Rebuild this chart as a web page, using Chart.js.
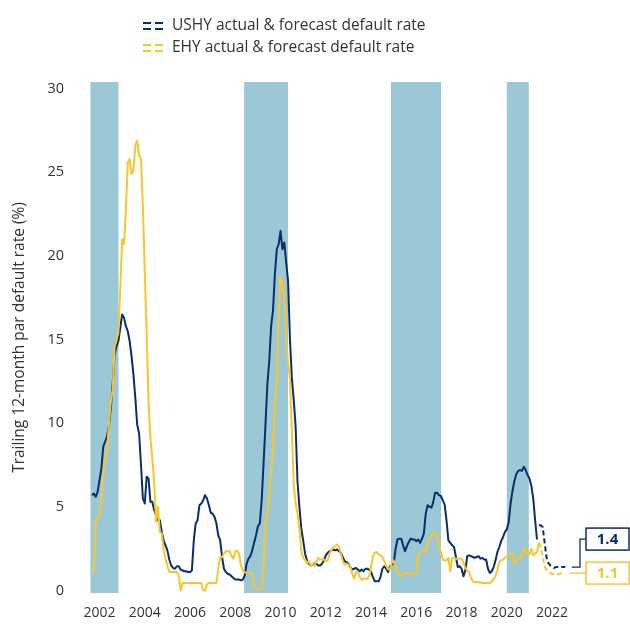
<!DOCTYPE html>
<html>
<head>
<meta charset="utf-8">
<script src="https://cdn.jsdelivr.net/npm/chart.js@4.4.1/dist/chart.umd.min.js"></script>
<style>
  html, body { margin: 0; padding: 0; background: #ffffff; }
  #wrap { width: 630px; height: 626px; }
</style>
</head>
<body>
<div id="wrap"><canvas id="chart" width="630" height="626"></canvas></div>
<script>
// Trailing 12-month par default rates, monthly, starting September 2001
const seriesStart = { year: 2001, month: 9 };
const ushyActual = [
  5.7, 5.8, 5.6, 5.9,
  6.6, 7.3, 8.6, 8.9, 9.2, 9.9, 10.9, 12.4, 14.1, 14.6, 14.9, 15.7,
  16.5, 16.3, 15.8, 15.5, 14.9, 14.0, 12.9, 11.5, 9.9, 9.4, 7.5, 5.5,
  5.2, 6.8, 6.7, 5.3, 5.3, 4.8, 4.5, 4.2, 4.2, 3.5, 3.0, 2.7,
  2.4, 1.85, 1.5, 1.35, 1.3, 1.45, 1.45, 1.25, 1.2, 1.15, 1.15, 1.1,
  1.1, 1.2, 3.0, 4.0, 4.2, 5.1, 5.2, 5.4, 5.7, 5.5, 5.1, 4.65,
  4.6, 4.4, 4.0, 3.3, 3.0, 2.0, 1.3, 1.1, 1.0, 0.95, 0.85, 0.75,
  0.65, 0.65, 0.65, 0.6, 0.65, 0.9, 1.6, 1.9, 2.05, 2.4, 2.85, 3.3,
  3.85, 4.0, 5.4, 7.6, 9.9, 12.3, 13.7, 15.8, 16.75, 18.9, 20.4, 20.7,
  21.5, 20.4, 20.8, 19.6, 18.5, 15.0, 12.7, 11.4, 9.8, 6.5, 5.0, 3.7,
  3.0, 2.2, 1.8, 1.6, 1.5, 1.55, 1.6, 1.6, 1.5, 1.5, 1.6, 1.8,
  2.1, 2.25, 2.35, 2.4, 2.45, 2.4, 2.45, 2.35, 2.25, 2.0, 1.75, 1.7,
  1.6, 1.4, 1.25, 1.3, 1.35, 1.25, 1.15, 1.25, 1.15, 1.3, 1.3, 1.25,
  1.1, 0.8, 0.55, 0.55, 0.55, 0.8, 1.3, 1.45, 1.3, 1.1, 1.45, 1.55,
  1.6, 2.5, 3.05, 3.1, 3.1, 2.7, 2.35, 2.65, 2.9, 3.1, 3.05, 3.05,
  2.95, 3.05, 2.85, 3.1, 3.4, 4.6, 5.1, 5.0, 4.95, 5.3, 5.85, 5.85,
  5.7, 5.65, 5.4, 5.15, 4.2, 3.0, 2.85, 2.7, 2.6, 2.0, 1.4, 1.45,
  1.3, 0.85, 1.2, 2.05, 2.1, 2.05, 2.0, 1.95, 2.0, 2.05, 1.9, 1.95,
  1.85, 1.85, 1.3, 1.05, 1.15, 1.4, 1.8, 2.3, 2.6, 2.95, 3.2, 3.5,
  3.65, 4.1, 5.2, 5.95, 6.55, 6.95, 7.15, 7.2, 7.15, 7.4, 7.2, 6.9,
  6.7, 6.25, 5.5, 4.2, 3.05
];
const ehyActual = [
  1.1, 1.1, 4.0, 4.4,
  4.4, 5.5, 7.0, 8.0, 8.3, 10.0, 11.3, 12.0, 14.6, 15.0, 15.4, 18.0,
  21.0, 20.7, 22.8, 25.6, 25.8, 24.9, 25.1, 26.6, 26.9, 26.0, 25.8, 23.0,
  19.0, 15.5, 11.2, 9.1, 7.9, 6.4, 4.1, 5.0, 3.5, 3.4, 2.45, 1.9,
  1.5, 1.1, 1.1, 1.1, 1.1, 1.1, 0.9, 0.0, 0.45, 0.45, 0.45, 0.45,
  0.45, 0.45, 0.45, 0.45, 0.45, 0.45, 0.45, 0.0, 0.0, 0.4, 0.45, 0.45,
  0.45, 0.45, 0.45, 1.3, 2.0, 2.0, 2.2, 2.35, 2.35, 2.35, 2.05, 1.9,
  2.35, 2.4, 2.2, 1.5, 1.2, 1.1, 1.05, 1.05, 1.05, 1.0, 0.2, 0.1,
  0.1, 0.1, 0.1, 1.5, 4.1, 4.6, 5.7, 7.0, 8.6, 11.2, 12.6, 16.3,
  18.8, 18.3, 17.5, 15.0, 13.6, 12.6, 9.6, 6.3, 5.2, 4.6, 3.7, 2.3,
  1.95, 1.85, 1.65, 1.75, 1.5, 1.6, 1.45, 1.75, 1.95, 1.85, 1.85, 1.85,
  1.75, 1.8, 2.2, 2.45, 2.55, 2.65, 2.75, 2.6, 2.2, 1.75, 1.55, 1.6,
  1.55, 1.45, 1.0, 0.7, 1.1, 1.1, 0.8, 0.65, 0.7, 0.7, 0.7, 0.85,
  1.4, 2.05, 2.25, 2.3, 2.15, 2.1, 2.0, 1.75, 1.5, 1.25, 1.3, 1.65,
  1.8, 1.3, 1.1, 0.95, 0.85, 1.0, 1.05, 1.05, 1.05, 1.05, 0.95, 1.0,
  1.0, 2.15, 2.25, 2.35, 2.4, 2.3, 2.8, 3.2, 3.25, 3.45, 3.45, 3.2,
  2.75, 2.3, 1.85, 1.8, 1.8, 1.95, 1.15, 1.9, 1.95, 1.9, 1.9, 1.9,
  1.9, 1.65, 1.35, 1.2, 1.1, 0.75, 0.55, 0.5, 0.5, 0.5, 0.5, 0.45,
  0.45, 0.45, 0.45, 0.45, 0.55, 0.7, 0.85, 1.2, 1.7, 1.8, 1.85, 1.95,
  2.05, 2.05, 2.2, 2.2, 1.6, 1.75, 1.95, 1.9, 2.25, 2.5, 2.2, 2.3,
  2.15, 2.5, 2.1, 2.2, 2.3, 2.85
];

// Forecast paths, monthly, starting June 2021
const forecastStart = { year: 2021, month: 6 };
const ushyForecast = [3.9, 3.9, 3.8, 2.9, 2.0, 1.65, 1.5, 1.45, 1.35, 1.4, 1.4, 1.4, 1.4, 1.4, 1.4];
const ehyForecast = [2.85, 2.6, 2.0, 1.45, 1.25, 1.15, 1.05, 1.0, 0.95, 0.95, 0.95, 1.0, 1.05, 1.1];

// Shaded periods, in decimal years
const shadedPeriods = [
  [2001.6, 2002.84],
  [2008.39, 2010.33],
  [2014.88, 2017.09],
  [2020.0, 2020.97]
];

const yearTicks = [2002, 2004, 2006, 2008, 2010, 2012, 2014, 2016, 2018, 2020, 2022];
const rateTicks = [0, 5, 10, 15, 20, 25, 30];

const seriesNames = ['USHY actual & forecast default rate', 'EHY actual & forecast default rate'];
const yTitle = 'Trailing 12-month par default rate (%)';

const NAVY = '#0b2d6b';
const GOLD = '#fcc52c';
const GOLD_TEXT = '#f7c43a';
const BAND = '#9bc8d7';
const TEXT = '#333333';
const FONT = '"Open Sans", Lato, sans-serif';

function toPoints(values, start) {
  const x0 = start.year + (start.month - 1) / 12;
  return values.map((v, i) => ({ x: x0 + i / 12, y: v }));
}

// Shaded background periods
const bandsPlugin = {
  id: 'bands',
  beforeDatasetsDraw(chart) {
    const { ctx, chartArea, scales: { x } } = chart;
    ctx.save();
    ctx.fillStyle = BAND;
    shadedPeriods.forEach(([a, b]) => {
      const x1 = x.getPixelForValue(a);
      const x2 = x.getPixelForValue(b);
      ctx.fillRect(x1, chartArea.top, x2 - x1, chartArea.bottom - chartArea.top);
    });
    ctx.restore();
  }
};

// Legend: two stacked rows with dashed-pair swatches
function swatch(ctx, x, y, color) {
  ctx.save();
  ctx.strokeStyle = color;
  ctx.lineWidth = 2;
  [-3, 3].forEach(dy => {
    ctx.beginPath();
    ctx.moveTo(x, y + dy); ctx.lineTo(x + 8, y + dy);
    ctx.moveTo(x + 12, y + dy); ctx.lineTo(x + 20, y + dy);
    ctx.stroke();
  });
  ctx.restore();
}
const legendPlugin = {
  id: 'stackedLegend',
  afterDraw(chart) {
    const { ctx } = chart;
    const rows = [
      { text: chart.data.datasets[0].label, color: NAVY, y: 26 },
      { text: chart.data.datasets[2].label, color: GOLD, y: 48 }
    ];
    ctx.save();
    ctx.font = '15.5px ' + FONT;
    ctx.fillStyle = TEXT;
    ctx.textBaseline = 'middle';
    ctx.textAlign = 'left';
    rows.forEach(r => {
      swatch(ctx, 143, r.y, r.color);
      ctx.fillText(r.text, 172, r.y);
    });
    ctx.restore();
  }
};

// Value boxes at the end of each forecast path
const endLabelsPlugin = {
  id: 'endLabels',
  afterDatasetsDraw(chart) {
    const { ctx } = chart;
    const endOf = (idx) => {
      const ds = chart.data.datasets[idx];
      const meta = chart.getDatasetMeta(idx);
      const p = meta.data[meta.data.length - 1];
      return { x: p.x, y: p.y, value: ds.data[ds.data.length - 1].y };
    };
    const us = endOf(1);
    const eu = endOf(3);
    const boxLeft = 586, boxW = 43, boxH = 22, elbowX = 580;
    const euBoxY = eu.y + 1;
    const usBoxY = euBoxY - 34;

    ctx.save();
    ctx.lineWidth = 1.3;
    // USHY connector
    ctx.strokeStyle = NAVY;
    ctx.beginPath();
    ctx.moveTo(us.x + 6.5, us.y);
    ctx.lineTo(elbowX, us.y);
    ctx.lineTo(elbowX, usBoxY);
    ctx.lineTo(boxLeft, usBoxY);
    ctx.stroke();
    // EHY connector
    ctx.strokeStyle = GOLD;
    ctx.beginPath();
    ctx.moveTo(eu.x + 6, euBoxY);
    ctx.lineTo(boxLeft, euBoxY);
    ctx.stroke();

    const box = (cy, color, textColor, value) => {
      ctx.fillStyle = '#ffffff';
      ctx.fillRect(boxLeft, cy - boxH / 2, boxW, boxH);
      ctx.strokeStyle = color;
      ctx.lineWidth = 1.5;
      ctx.strokeRect(boxLeft, cy - boxH / 2, boxW, boxH);
      ctx.fillStyle = textColor;
      ctx.font = 'bold 15px ' + FONT;
      ctx.textAlign = 'center';
      ctx.textBaseline = 'middle';
      ctx.fillText(value.toFixed(1), boxLeft + boxW / 2, cy + 1);
    };
    box(usBoxY, NAVY, NAVY, us.value);
    box(euBoxY, GOLD, GOLD_TEXT, eu.value);
    ctx.restore();
  }
};

const lineBase = { pointRadius: 0, borderWidth: 2, tension: 0, fill: false, borderJoinStyle: 'round' };

new Chart(document.getElementById('chart'), {
  type: 'line',
  data: {
    datasets: [
      Object.assign({ label: seriesNames[0], data: toPoints(ushyActual, seriesStart), borderColor: NAVY, order: 2 }, lineBase),
      Object.assign({ label: seriesNames[0], data: toPoints(ushyForecast, forecastStart), borderColor: NAVY, borderDash: [5, 3], order: 2 }, lineBase),
      Object.assign({ label: seriesNames[1], data: toPoints(ehyActual, seriesStart), borderColor: GOLD, order: 1 }, lineBase),
      Object.assign({ label: seriesNames[1], data: toPoints(ehyForecast, forecastStart), borderColor: GOLD, borderDash: [5, 3], order: 1 }, lineBase)
    ]
  },
  options: {
    responsive: false,
    animation: false,
    events: [],
    layout: { padding: { top: 82, left: 10, right: 50, bottom: 0 } },
    scales: {
      x: {
        type: 'linear',
        min: 2001.58,
        max: 2023.233,
        afterBuildTicks: (s) => { s.ticks = yearTicks.map(v => ({ value: v })); },
        afterFit: (s) => { s.height = 33; },
        grid: { display: false },
        border: { display: false },
        ticks: {
          autoSkip: false, maxRotation: 0, padding: 4,
          color: TEXT, font: { family: FONT, size: 14 },
          callback: (v) => String(v)
        }
      },
      y: {
        min: -0.15,
        max: 30.4,
        afterBuildTicks: (s) => { s.ticks = rateTicks.map(v => ({ value: v })); },
        afterFit: (s) => { s.width = 80; },
        grid: { display: false },
        border: { display: false },
        ticks: { padding: 18, color: TEXT, font: { family: FONT, size: 14.5 } },
        title: {
          display: true, text: yTitle, color: TEXT,
          font: { family: FONT, size: 15.5 }, padding: { top: 0, bottom: 0 }
        }
      }
    },
    plugins: { legend: { display: false }, tooltip: { enabled: false } }
  },
  plugins: [bandsPlugin, legendPlugin, endLabelsPlugin]
});
</script>
</body>
</html>
